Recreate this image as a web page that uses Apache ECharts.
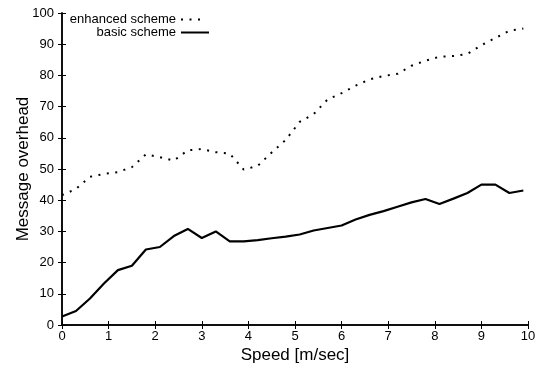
<!DOCTYPE html>
<html>
<head>
<meta charset="utf-8">
<script src="https://cdn.jsdelivr.net/npm/echarts@6/dist/echarts.min.js"></script>
<style>
  html, body { margin: 0; padding: 0; background: #fff; }
  #chart { width: 551px; height: 369px; }
</style>
</head>
<body>
<div id="chart"></div>
<script>
// speed values [m/sec]
var speed = [0, 0.3, 0.6, 0.9, 1.2, 1.5, 1.8, 2.1, 2.4, 2.7, 3.0, 3.3, 3.6, 3.9, 4.2, 4.5, 4.8,
  5.1, 5.4, 5.7, 6.0, 6.3, 6.6, 6.9, 7.2, 7.5, 7.8, 8.1, 8.4, 8.7, 9.0, 9.3, 9.6, 9.9];
// message overhead
var enhanced = [41.6, 43.6, 47.5, 48.4, 49.0, 50.6, 54.7, 53.8, 52.7, 56.0, 56.4, 55.4, 54.9, 49.8, 51.0, 55.3, 59.3,
  65.1, 67.6, 72.3, 74.3, 76.7, 78.7, 79.8, 80.5, 83.1, 84.7, 86.0, 86.2, 86.9, 89.7, 92.0, 94.3, 95.0];
var basic = [2.7, 4.5, 8.5, 13.3, 17.6, 19.0, 24.2, 25.0, 28.5, 30.8, 27.9, 30.0, 26.8, 26.8, 27.2, 27.8, 28.3,
  29.0, 30.3, 31.1, 31.9, 33.8, 35.3, 36.5, 37.9, 39.3, 40.4, 38.8, 40.5, 42.3, 45.0, 45.0, 42.3, 43.1];

var chart = echarts.init(document.getElementById('chart'));

function pairs(ys) {
  return speed.map(function (x, i) { return [x, ys[i]]; });
}

var font = 'Liberation Sans, Arial, sans-serif';
var frame = { show: true, lineStyle: { color: '#000', width: 1.5 } };
var tick = { show: true, inside: true, length: 4, lineStyle: { color: '#000', width: 1 } };
var legendText = { fontSize: 13, color: '#000', fontFamily: font };

var option = {
  animation: false,
  textStyle: { fontFamily: font },
  grid: { left: 62, right: 23, top: 13, bottom: 44, containLabel: false, outerBoundsMode: 'none' },
  legend: [
    {
      data: ['enhanced scheme'],
      right: 348, top: 13, padding: 0,
      align: 'right', itemWidth: 21, itemHeight: 14,
      itemStyle: { opacity: 0 },
      textStyle: legendText
    },
    {
      data: ['basic scheme'],
      right: 341, top: 26, padding: 0,
      align: 'right', itemWidth: 28, itemHeight: 14,
      itemStyle: { opacity: 0 },
      textStyle: legendText
    }
  ],
  xAxis: [
    {
      type: 'value', min: 0, max: 10, interval: 1,
      name: 'Speed [m/sec]', nameLocation: 'middle', nameGap: 22, nameMoveOverlap: false,
      nameTextStyle: { fontSize: 17, color: '#000', fontFamily: font },
      axisLine: frame, axisTick: tick,
      axisLabel: { fontSize: 13, color: '#000', margin: 5, fontFamily: font },
      splitLine: { show: false }
    },
    {
      type: 'value', min: 0, max: 10, interval: 1, position: 'top',
      axisLine: frame, axisTick: tick,
      axisLabel: { show: false }, splitLine: { show: false }
    }
  ],
  yAxis: [
    {
      type: 'value', min: 0, max: 100, interval: 10,
      name: 'Message overhead', nameLocation: 'middle', nameGap: 30, nameMoveOverlap: false,
      nameTextStyle: { fontSize: 17, color: '#000', fontFamily: font },
      axisLine: frame, axisTick: tick,
      axisLabel: { fontSize: 13, color: '#000', margin: 8, fontFamily: font },
      splitLine: { show: false }
    },
    {
      type: 'value', min: 0, max: 100, interval: 10, position: 'right',
      axisLine: frame, axisTick: tick,
      axisLabel: { show: false }, splitLine: { show: false }
    }
  ],
  series: [
    {
      name: 'enhanced scheme',
      type: 'line',
      data: pairs(enhanced),
      symbol: 'none',
      color: '#000',
      lineStyle: { color: '#000', width: 2, type: [2, 6.5] }
    },
    {
      name: 'basic scheme',
      type: 'line',
      data: pairs(basic),
      symbol: 'none',
      color: '#000',
      lineStyle: { color: '#000', width: 2.2, type: 'solid' }
    }
  ]
};

chart.setOption(option);
</script>
</body>
</html>
